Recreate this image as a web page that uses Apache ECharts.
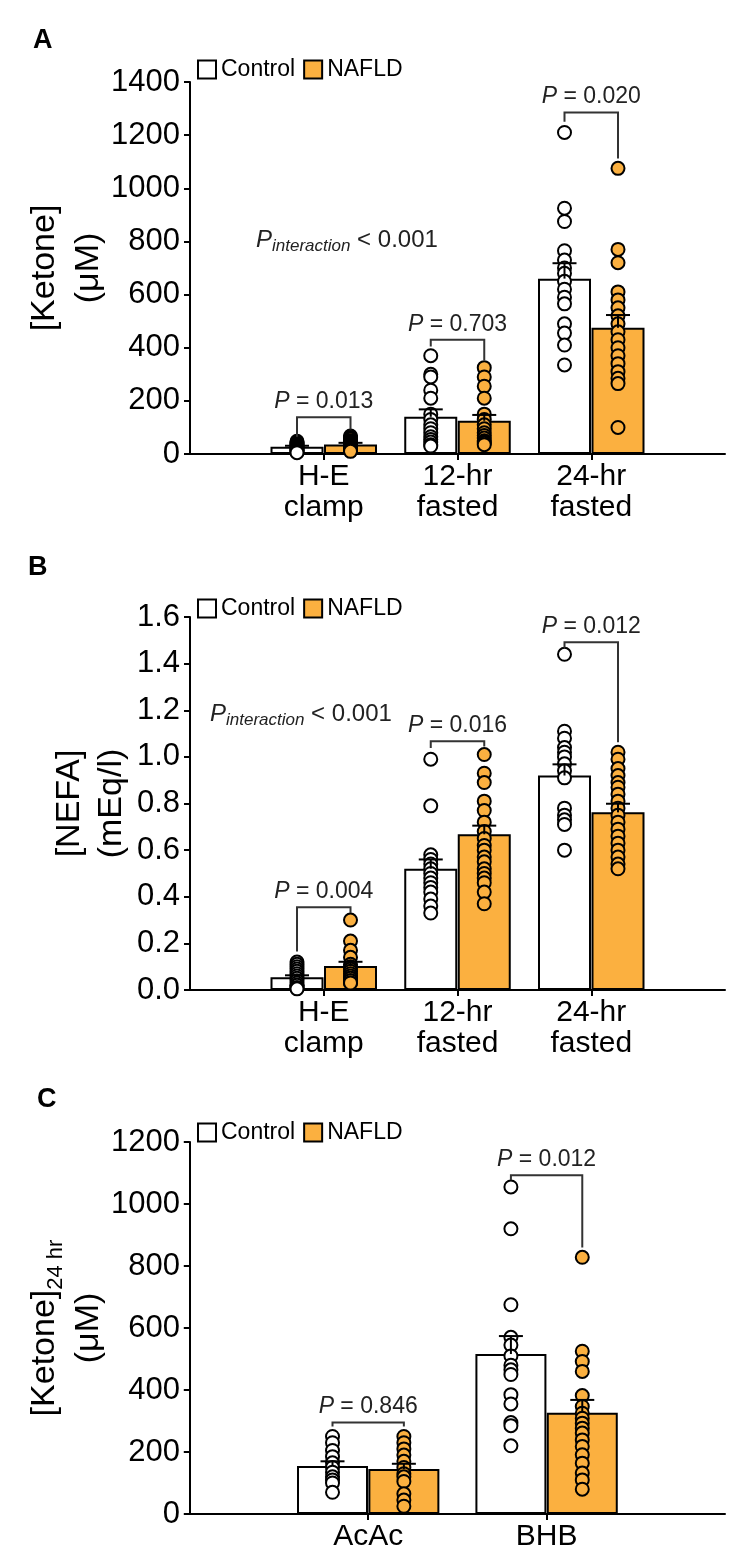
<!DOCTYPE html>
<html><head><meta charset="utf-8">
<script src="https://cdn.jsdelivr.net/npm/echarts@6/dist/echarts.min.js"></script>
<style>html,body{margin:0;padding:0;background:#fff}#c{width:738px;height:1562px}</style>
</head><body><div id="c"></div>
<script>
// ---------- data ----------
const catsAB = ['H-E\nclamp', '12-hr\nfasted', '24-hr\nfasted'];
const catsC = ['AcAc', 'BHB'];
const groups = ['Control', 'NAFLD'];

// Panel A: [Ketone] (µM)
const ketoneCtrlMean = [27, 140, 660];
const ketoneCtrlSem = [4, 28, 58];
const ketoneNafldMean = [36, 125, 475];
const ketoneNafldSem = [6, 22, 48];
const ketoneCtrlPts = [
  [48, 44, 40, 36, 32, 28, 25, 22, 18, 15, 12, 8, 5],
  [370, 300, 290, 240, 210, 150, 130, 110, 95, 80, 65, 55, 45, 35, 30],
  [1210, 925, 875, 765, 730, 700, 680, 650, 620, 590, 565, 490, 455, 410, 335]
];
const ketoneNafldPts = [
  [68, 62, 56, 50, 45, 40, 36, 32, 28, 25, 22, 18, 15, 12, 10],
  [325, 290, 255, 210, 150, 130, 110, 95, 80, 70, 60, 50, 45, 40, 35],
  [1075, 770, 720, 610, 580, 550, 520, 490, 460, 430, 400, 370, 340, 310, 285, 265, 100]
];
const ketoneP = ['0.013', '0.703', '0.020'];
const ketoneBrackets = [[138, 65, 92], [430, 405, 352], [1285, 1250, 1112]]; // [top, left end, right end]
const ketoneTicks = [0, 200, 400, 600, 800, 1000, 1200, 1400];

// Panel B: [NEFA] (mEq/l)
const nefaCtrlMean = [0.055, 0.52, 0.92];
const nefaCtrlSem = [0.008, 0.04, 0.048];
const nefaNafldMean = [0.103, 0.668, 0.762];
const nefaNafldSem = [0.018, 0.037, 0.037];
const nefaCtrlPts = [
  [0.12, 0.11, 0.10, 0.09, 0.08, 0.07, 0.06, 0.05, 0.04, 0.03, 0.02, 0.02, 0.01, 0.01, 0.005],
  [0.99, 0.79, 0.58, 0.56, 0.54, 0.52, 0.50, 0.48, 0.46, 0.44, 0.42, 0.39, 0.36, 0.33],
  [1.44, 1.11, 1.08, 1.04, 1.02, 1.00, 0.97, 0.94, 0.91, 0.78, 0.75, 0.73, 0.71, 0.60]
];
const nefaNafldPts = [
  [0.30, 0.21, 0.17, 0.14, 0.11, 0.10, 0.09, 0.08, 0.07, 0.06, 0.05, 0.05, 0.04, 0.04, 0.03, 0.03],
  [1.01, 0.93, 0.89, 0.81, 0.77, 0.72, 0.68, 0.65, 0.62, 0.60, 0.57, 0.55, 0.52, 0.50, 0.48, 0.46, 0.42, 0.37],
  [1.02, 0.99, 0.95, 0.92, 0.89, 0.87, 0.84, 0.81, 0.78, 0.75, 0.72, 0.69, 0.66, 0.63, 0.60, 0.57, 0.54, 0.52]
];
const nefaP = ['0.004', '0.016', '0.012'];
const nefaBrackets = [[0.355, 0.165, 0.33], [1.067, 1.038, 1.045], [1.492, 1.468, 1.063]];
const nefaTicks = [0, 0.2, 0.4, 0.6, 0.8, 1.0, 1.2, 1.4, 1.6];

// Panel C: [Ketone]24 hr (µM)
const ket24CtrlMean = [155, 516];
const ket24CtrlSem = [15, 58];
const ket24NafldMean = [145, 327];
const ket24NafldSem = [17, 41];
const ket24CtrlPts = [
  [250, 230, 205, 185, 165, 150, 135, 120, 110, 100, 70],
  [1055, 920, 675, 570, 545, 510, 480, 465, 450, 385, 355, 295, 285, 220]
];
const ket24NafldPts = [
  [250, 230, 210, 190, 170, 150, 130, 120, 105, 65, 45, 25],
  [828, 525, 492, 460, 382, 347, 325, 309, 293, 277, 261, 239, 218, 191, 164, 132, 110, 80]
];
const ket24P = ['0.846', '0.012'];
const ket24Brackets = [[295, 282, 282], [1093, 1077, 860]];
const ket24Ticks = [0, 200, 400, 600, 800, 1000, 1200];

// ---------- styling ----------
const F = "'Liberation Sans', Arial, Helvetica, sans-serif";
const ORANGE = '#FBB040';
const OFF = 0.2;

function errRender(params, api) {
  const x = api.value(0), m = api.value(1), t = api.value(2);
  const p0 = api.coord([x, m]), p1 = api.coord([x, t]);
  return {type: 'group', children: [
    {type: 'line', shape: {x1: p0[0], y1: p0[1], x2: p1[0], y2: p1[1]}, style: {stroke: '#000', lineWidth: 2}},
    {type: 'line', shape: {x1: p1[0] - 12, y1: p1[1], x2: p1[0] + 12, y2: p1[1]}, style: {stroke: '#000', lineWidth: 2}}
  ]};
}
function bracketRender(pv) {
  return function (params, api) {
    const xl = api.value(0), xr = api.value(1), top = api.value(2), l = api.value(3), r = api.value(4);
    const a = api.coord([xl, l]), b = api.coord([xl, top]), c = api.coord([xr, top]), d = api.coord([xr, r]);
    return {type: 'group', children: [
      {type: 'polyline', shape: {points: [a, b, c, d]}, style: {stroke: '#333', lineWidth: 2, fill: null}},
      {type: 'text', x: (b[0] + c[0]) / 2, y: b[1] - 4, style: {
        text: '{i|P} = ' + pv[params.dataIndex],
        rich: {i: {fontStyle: 'italic', fontSize: 23, fontFamily: F, fill: '#222'}},
        fontSize: 23, fontFamily: F, fill: '#222', align: 'center', verticalAlign: 'bottom'}}
    ]};
  };
}
function panelSeries(g, cm, cs, nm, ns, cp, np, br, pv, bw) {
  const xc = i => i + 1 - OFF, xn = i => i + 1 + OFF;
  const common = {xAxisIndex: g, yAxisIndex: g, silent: true, animation: false};
  return [
    Object.assign({type: 'bar', name: groups[0], barWidth: bw, barGap: '-100%', z: 2,
      data: cm.map((v, i) => [xc(i), v]),
      itemStyle: {color: '#fff', borderColor: '#000', borderWidth: 2}}, common),
    Object.assign({type: 'bar', name: groups[1], barWidth: bw, barGap: '-100%', z: 2,
      data: nm.map((v, i) => [xn(i), v]),
      itemStyle: {color: ORANGE, borderColor: '#000', borderWidth: 2}}, common),
    Object.assign({type: 'scatter', name: groups[0] + ' pts', symbol: 'circle', symbolSize: 13, z: 3,
      data: cp.flatMap((arr, i) => arr.map(v => [xc(i), v])),
      itemStyle: {color: '#fff', borderColor: '#000', borderWidth: 2, opacity: 1}}, common),
    Object.assign({type: 'scatter', name: groups[1] + ' pts', symbol: 'circle', symbolSize: 13, z: 3,
      data: np.flatMap((arr, i) => arr.map(v => [xn(i), v])),
      itemStyle: {color: ORANGE, borderColor: '#000', borderWidth: 2, opacity: 1}}, common),
    Object.assign({type: 'custom', name: 'SEM', z: 4, renderItem: errRender,
      data: cm.map((v, i) => [xc(i), v, v + cs[i]]).concat(nm.map((v, i) => [xn(i), v, v + ns[i]]))}, common),
    Object.assign({type: 'custom', name: 'P', z: 4, renderItem: bracketRender(pv),
      data: br.map((b, i) => [xc(i), xn(i), b[0], b[1], b[2]])}, common)
  ];
}

function xAxis(g, cats, mn) {
  const vals = cats.map((c, i) => i + 1);
  return {type: 'value', gridIndex: g, min: mn, max: cats.length + 1,
    splitLine: {show: false},
    axisLine: {show: true, onZero: false, lineStyle: {color: '#000', width: 2}},
    axisTick: {show: true, customValues: vals, length: 6, lineStyle: {color: '#000', width: 2}},
    axisLabel: {show: true, customValues: vals, fontSize: 30, lineHeight: 31, margin: 7, color: '#000', fontFamily: F,
      formatter: v => (v >= 1 && v <= cats.length && Math.round(v) === v) ? cats[v - 1] : ''}};
}
function yAxis(g, ticks, name, gap, lh, fmt, rich) {
  const st = {fontSize: 34, lineHeight: lh, fontFamily: F, color: '#000'};
  if (rich) st.rich = rich;
  return {type: 'value', gridIndex: g, min: ticks[0], max: ticks[ticks.length - 1], interval: ticks[1] - ticks[0],
    splitLine: {show: false},
    axisLine: {show: true, lineStyle: {color: '#000', width: 2}},
    axisTick: {show: true, length: 6, lineStyle: {color: '#000', width: 2}},
    axisLabel: {fontSize: 31, margin: 8, color: '#000', fontFamily: F, formatter: fmt},
    name: name, nameLocation: 'middle', nameRotate: 90, nameGap: gap, nameMoveOverlap: false,
    nameTextStyle: st};
}
function legend(top) {
  return {data: groups, left: 197, top: top, icon: 'rect', itemWidth: 18, itemHeight: 18, itemGap: 8,
    padding: 0, selectedMode: false, textStyle: {fontSize: 23, fontFamily: F, color: '#000'}};
}
function letter(t, x, y) {
  return {type: 'text', x: x, y: y, style: {text: t, fontSize: 27, fontWeight: 'bold', fontFamily: F, fill: '#000', align: 'left', verticalAlign: 'middle'}};
}
function pInter(x, y) {
  return {type: 'text', x: x, y: y, style: {
    text: '{p|P}{s|interaction}{n| < 0.001}', align: 'left', verticalAlign: 'middle',
    rich: {
      p: {fontSize: 24, fontStyle: 'italic', lineHeight: 30, fontFamily: F, fill: '#222'},
      s: {fontSize: 17, fontStyle: 'italic', lineHeight: 12, verticalAlign: 'bottom', fontFamily: F, fill: '#222'},
      n: {fontSize: 24, lineHeight: 30, fontFamily: F, fill: '#222'}
    }}};
}

const option = {
  animation: false,
  backgroundColor: '#fff',
  grid: [
    {left: 188, right: 13, top: 82, height: 372},
    {left: 188, right: 13, top: 617, height: 373},
    {left: 188, right: 13, top: 1142, height: 372}
  ],
  xAxis: [xAxis(0, catsAB, -0.015), xAxis(1, catsAB, -0.015), xAxis(2, catsC, -0.01)],
  yAxis: [
    yAxis(0, ketoneTicks, '[Ketone]\n(μM)', 77, 44, v => String(v)),
    yAxis(1, nefaTicks, '[NEFA]\n(mEq/l)', 55, 42, v => v.toFixed(1)),
    yAxis(2, ket24Ticks, '{a|[Ketone]}{s|24 hr}\n{a|(μM)}', 77, 44, v => String(v), {
      a: {fontSize: 34, lineHeight: 44, fontFamily: F, color: '#000'},
      s: {fontSize: 22, lineHeight: 16, verticalAlign: 'bottom', fontFamily: F, color: '#000'}
    })
  ],
  legend: [legend(58), legend(597), legend(1121)],
  graphic: [
    letter('A', 33, 41), letter('B', 28, 568), letter('C', 37, 1100),
    pInter(256, 240), pInter(210, 714)
  ],
  series: [].concat(
    panelSeries(0, ketoneCtrlMean, ketoneCtrlSem, ketoneNafldMean, ketoneNafldSem, ketoneCtrlPts, ketoneNafldPts, ketoneBrackets, ketoneP, 53),
    panelSeries(1, nefaCtrlMean, nefaCtrlSem, nefaNafldMean, nefaNafldSem, nefaCtrlPts, nefaNafldPts, nefaBrackets, nefaP, 53),
    panelSeries(2, ket24CtrlMean, ket24CtrlSem, ket24NafldMean, ket24NafldSem, ket24CtrlPts, ket24NafldPts, ket24Brackets, ket24P, 71)
  )
};
const chart = echarts.init(document.getElementById('c'), null, {renderer: 'canvas'});
chart.setOption(option);
</script>
</body></html>
